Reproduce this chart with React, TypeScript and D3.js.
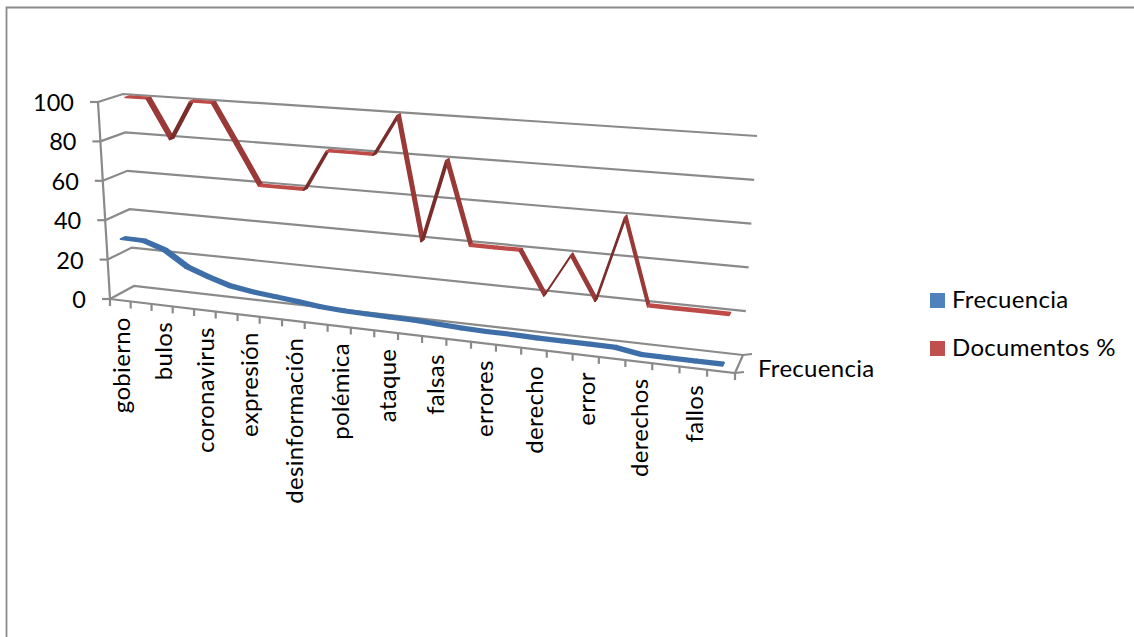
import React from "react";
import * as d3 from "d3";

const tickLabels = ["gobierno","","bulos","","coronavirus","","expresión","","desinformación","","polémica","","ataque","","falsas","","errores","","derecho","","error","","derechos","","fallos",""];
const frecuencia = [30,29.8,26.1,18.9,14.9,11.6,9.9,8.8,7.6,6.3,5.7,5.4,5.2,5,4.5,3.9,3.6,3.6,3.3,3.3,3.3,3.2,1.3,1.2,1.2,1.2];
const documentos = [100,100,80,100,100,80,60,60,60,80,80,80,100,40,80,40,40,40,20,40,20,60,20,20,20,20];
const valueTicks = [0,20,40,60,80,100];
const seriesNames = ["Frecuencia","Documentos %"];
const depthLabel = "Frecuencia";

type Pt = [number, number];
const W = 1134, H = 637;
const GRID = "#8a8a8a";
const FONT = "Lato, Carlito, sans-serif";

// Box corners of the 3D plot as drawn on screen
const frontFloor: [Pt, Pt] = [[110, 299], [735, 373]];
const backFloor: [Pt, Pt] = [[134, 286], [743, 355]];
const frontTop: [Pt, Pt] = [[98, 102], [747, 148]];
const backTop: [Pt, Pt] = [[123, 94], [757, 136]];

const lerp = (a: Pt, b: Pt, t: number): Pt => [a[0] + (b[0] - a[0]) * t, a[1] + (b[1] - a[1]) * t];
const n = tickLabels.length;
const perspective = 1.17;
const kScale = d3.scaleLinear().domain([0, n]).range([0, 1]);
const uOf = (k: number) => { const t = kScale(k); return t / (t + (1 - t) * perspective); };
const vScale = d3.scaleLinear().domain([0, 100]).range([0, 1]);

function project(k: number, v: number, d: number): Pt {
  const u = uOf(k), f = vScale(v);
  const front = lerp(lerp(frontFloor[0], frontFloor[1], u), lerp(frontTop[0], frontTop[1], u), f);
  const back = lerp(lerp(backFloor[0], backFloor[1], u), lerp(backTop[0], backTop[1], u), f);
  return lerp(front, back, d);
}

const line = d3.line<Pt>();
const halfWidth = 0.09;

function Ribbon({ values, depth, flat, down, up, edge }: { values: number[]; depth: number; flat: string; down: string; up: string; edge: number }) {
  const segs = d3.pairs(values.map((v, i) => [i, v] as [number, number]));
  return (
    <g>
      {segs.map(([a, b], i) => {
        const ka = a[0] + 0.5, kb = b[0] + 0.5;
        const quad = [
          project(ka, a[1], depth - halfWidth),
          project(kb, b[1], depth - halfWidth),
          project(kb, b[1], depth + halfWidth),
          project(ka, a[1], depth + halfWidth),
        ];
        const dv = b[1] - a[1];
        const fill = Math.abs(dv) < 8 ? flat : dv < 0 ? down : up;
        return <path key={i} d={line(quad)! + "Z"} fill={fill} stroke={fill} strokeWidth={edge} strokeLinejoin="round" />;
      })}
    </g>
  );
}

const textStyle = { fontFamily: FONT, fontSize: 24, letterSpacing: 0.3, fill: "#000" };

export default function App() {
  const gl = (p: Pt[], key: string, w = 2.2) => <path key={key} d={line(p)!} fill="none" stroke={GRID} strokeWidth={w} />;
  return (
    <svg width={W} height={H} viewBox={`0 0 ${W} ${H}`} style={{ position: "absolute", left: 0, top: 0, background: "#fff" }}>
      {/* chart frame */}
      {gl([[6.5, H], [6.5, 7.5], [W, 7.5]], "frame", 1.8)}

      {/* walls */}
      {valueTicks.map(v => gl([project(0, v, 0), project(0, v, 1), project(n, v, 1)], "grid" + v))}
      {gl([project(0, 0, 0), project(0, 100, 0)], "yaxis")}
      {valueTicks.map(v => {
        const p = project(0, v, 0);
        return gl([[p[0] - 8, p[1]], p], "yt" + v);
      })}
      {valueTicks.map(v => {
        const p = project(0, v, 0);
        return (
          <text key={"yl" + v} x={p[0] - 24} y={p[1] + 9} textAnchor="end" fontFamily={FONT} fontSize={23.5} fill="#000">{v}</text>
        );
      })}

      {/* floor front axis */}
      {gl([project(0, 0, 0), project(n, 0, 0), project(n, 0, 1)], "xaxis")}
      {d3.range(0, n + 1).map(k => {
        const p = project(k, 0, 0);
        return gl([p, [p[0], p[1] + 7]], "xt" + k);
      })}
      {/* depth axis ticks */}
      {[0, 1].map(d => {
        const p = project(n, 0, d);
        return gl([p, [p[0] + 9, p[1] - 1]], "dt" + d);
      })}
      <text x={758} y={377} style={textStyle}>{depthLabel}</text>

      {/* series */}
      <Ribbon values={frecuencia} depth={0.25} flat="#3F6FA8" down="#3F6FA8" up="#4F81BD" edge={2} />
      <Ribbon values={documentos} depth={0.75} flat="#BE4B48" down="#9A3A38" up="#7A2D2B" edge={1.5} />

      {/* category labels */}
      {tickLabels.map((t, i) => {
        if (!t) return null;
        const p = project(i + 0.5, 0, 0);
        return (
          <text key={i} transform={`translate(${p[0] + 9.5},${p[1] + 17}) rotate(-90)`} textAnchor="end" style={textStyle}>{t}</text>
        );
      })}

      {/* legend */}
      {seriesNames.map((s, i) => (
        <g key={s} transform={`translate(930,${293 + i * 48})`}>
          <rect width={15} height={15} fill={i === 0 ? "#4F81BD" : "#C0504D"} />
          <text x={22} y={14.5} style={textStyle}>{s}</text>
        </g>
      ))}
    </svg>
  );
}
